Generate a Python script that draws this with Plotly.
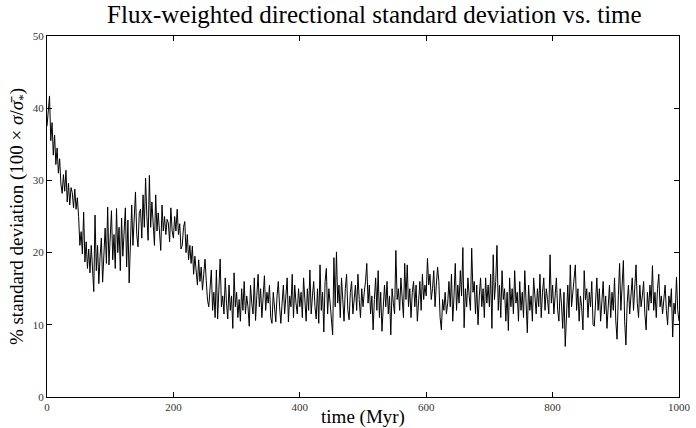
import plotly.graph_objects as go

std_0_48 = [37.5, 40.0, 41.7, 35.5, 38.0, 33.5, 36.3, 32.2, 34.5, 31.0, 33.0, 29.5, 28.2, 30.8, 28.5, 31.4, 27.0, 29.6, 26.6, 29.0, 28.3, 26.2, 28.8, 26.0, 27.6]
std_50_98 = [25.0, 21.0, 22.9, 19.8, 25.6, 18.7, 21.5, 17.8, 20.5, 17.2, 21.0, 16.5, 14.6, 25.2, 17.5, 21.0, 15.7, 19.5, 22.0, 15.9, 20.0, 23.4, 18.5, 26.3, 18.3]
std_100_148 = [22.0, 25.8, 19.0, 22.5, 17.8, 26.1, 20.0, 23.5, 17.5, 24.8, 19.5, 23.0, 26.2, 18.0, 24.5, 15.8, 22.5, 26.6, 21.0, 24.0, 28.4, 22.5, 20.8, 25.5, 26.0]
std_150_198 = [22.0, 28.0, 23.5, 30.3, 25.0, 21.7, 30.7, 23.5, 27.0, 24.0, 21.0, 28.0, 23.0, 25.5, 22.0, 20.3, 26.6, 23.0, 25.0, 22.5, 24.6, 24.1, 21.5, 26.2, 23.0]
std_200_248 = [22.0, 25.0, 23.0, 26.0, 22.5, 24.0, 20.5, 21.0, 23.5, 24.3, 20.0, 22.5, 19.0, 21.0, 18.5, 20.9, 17.0, 19.5, 17.6, 15.5, 19.0, 16.0, 18.0, 14.8, 17.0]
std_250_298 = [19.1, 16.1, 13.4, 12.5, 15.5, 17.6, 12.0, 14.5, 11.0, 17.6, 10.8, 15.0, 19.1, 12.5, 14.0, 11.5, 16.5, 13.0, 10.8, 15.5, 12.0, 14.0, 9.5, 17.2, 12.5]
std_300_348 = [14.5, 11.0, 13.5, 10.5, 15.0, 12.0, 16.0, 11.5, 14.0, 12.5, 9.8, 15.5, 13.0, 11.5, 16.5, 10.6, 14.0, 17.0, 12.5, 15.0, 11.0, 13.5, 16.8, 12.0, 14.5]
std_350_398 = [13.0, 15.5, 11.0, 10.2, 14.5, 12.0, 10.4, 14.0, 16.0, 12.5, 10.2, 13.0, 15.5, 11.5, 13.5, 16.5, 10.4, 14.0, 12.5, 17.0, 11.0, 15.5, 13.0, 11.5, 15.0]
std_400_448 = [12.5, 14.5, 11.0, 16.5, 13.0, 10.5, 15.0, 12.0, 17.6, 11.5, 14.0, 16.0, 12.5, 10.8, 15.0, 10.2, 18.3, 12.0, 14.5, 9.0, 16.0, 17.8, 11.5, 15.0, 13.0]
std_450_498 = [11.0, 8.6, 19.3, 12.5, 20.1, 13.0, 15.5, 11.0, 16.5, 13.0, 10.5, 15.0, 17.0, 12.0, 10.7, 14.5, 16.0, 11.5, 13.5, 15.5, 12.0, 17.0, 13.5, 11.0, 15.0]
std_500_548 = [12.5, 14.5, 16.0, 18.5, 13.0, 15.5, 11.5, 14.0, 9.3, 13.5, 16.5, 12.0, 17.5, 11.0, 14.5, 9.1, 13.0, 15.5, 12.5, 16.0, 11.5, 14.0, 8.6, 15.0, 13.0]
std_550_598 = [11.5, 20.3, 13.5, 15.0, 12.0, 16.5, 14.0, 11.0, 18.5, 13.5, 18.3, 12.5, 15.0, 11.0, 14.5, 16.0, 12.5, 15.5, 10.5, 14.0, 16.0, 12.0, 17.0, 13.5, 15.5]
std_600_648 = [14.0, 19.2, 15.5, 17.0, 13.5, 15.0, 17.5, 12.5, 15.5, 18.0, 16.0, 11.0, 9.3, 13.5, 12.0, 14.5, 11.5, 13.0, 16.0, 12.5, 17.0, 10.5, 14.0, 18.5, 12.0]
std_650_698 = [15.5, 13.0, 17.5, 14.0, 20.7, 9.6, 15.0, 12.5, 16.5, 14.0, 12.0, 20.6, 14.5, 16.0, 11.5, 15.5, 10.0, 14.0, 16.5, 12.5, 15.0, 11.0, 16.5, 13.0, 15.5]
std_700_748 = [12.5, 17.0, 9.5, 19.7, 13.5, 16.0, 21.0, 12.0, 15.5, 11.0, 17.5, 13.5, 15.0, 10.5, 14.5, 9.2, 16.5, 12.5, 15.0, 11.5, 17.5, 13.0, 14.5, 10.5, 16.0]
std_750_798 = [12.0, 14.5, 11.0, 17.5, 13.0, 8.9, 15.5, 12.0, 14.0, 10.5, 16.5, 13.0, 11.5, 15.0, 12.5, 17.0, 11.0, 14.5, 16.5, 12.0, 15.0, 13.5, 11.5, 19.7, 13.0]
std_800_848 = [15.5, 11.5, 14.0, 16.5, 12.0, 10.5, 15.0, 13.0, 9.5, 14.5, 7.0, 12.5, 15.5, 11.0, 18.3, 12.5, 14.5, 16.0, 18.3, 12.0, 15.0, 10.5, 14.0, 12.5, 9.3]
std_850_898 = [17.5, 13.5, 15.0, 11.0, 14.5, 12.5, 16.0, 10.0, 9.8, 14.0, 16.5, 12.0, 15.0, 10.5, 13.5, 16.0, 11.5, 14.0, 9.5, 13.0, 15.5, 11.0, 14.5, 12.0, 16.5]
std_900_948 = [10.5, 8.0, 14.0, 18.5, 12.0, 15.0, 18.9, 10.5, 7.2, 13.0, 15.5, 11.5, 14.0, 16.5, 12.0, 14.5, 18.3, 13.0, 11.0, 15.5, 12.5, 14.0, 16.0, 11.5, 9.3]
std_950_1000 = [14.5, 12.0, 15.5, 13.0, 18.2, 12.0, 14.5, 11.0, 15.0, 17.0, 12.5, 14.0, 11.5, 13.5, 15.5, 12.0, 10.0, 14.0, 12.5, 15.0, 8.3, 13.0, 11.5, 16.6, 12.0, 10.5]

std_pct = (std_0_48 + std_50_98 + std_100_148 + std_150_198 + std_200_248 + std_250_298
           + std_300_348 + std_350_398 + std_400_448 + std_450_498 + std_500_548 + std_550_598
           + std_600_648 + std_650_698 + std_700_748 + std_750_798 + std_800_848 + std_850_898
           + std_900_948 + std_950_1000)
time_myr = list(range(0, 1001, 2))
assert len(time_myr) == len(std_pct)

x_ticks = [0, 200, 400, 600, 800, 1000]
y_ticks = [0, 10, 20, 30, 40, 50]

FONT = "Liberation Serif, DejaVu Serif, serif"

fig = go.Figure()
fig.add_trace(go.Scatter(x=time_myr, y=std_pct, mode="lines",
                         line=dict(color="black", width=1), showlegend=False))

axis_common = dict(showgrid=False, zeroline=False, showline=True, linecolor="black", linewidth=1,
                   mirror="ticks", ticks="inside", ticklen=5, tickcolor="black", tickwidth=1,
                   automargin=False,
                   tickfont=dict(family=FONT, size=11, color="#333"))

fig.update_layout(
    width=696, height=428,
    margin=dict(l=47, r=17, t=36, b=31),
    paper_bgcolor="white", plot_bgcolor="white",
    title=dict(text="Flux-weighted directional standard deviation vs. time",
               x=0.518, xref="paper", xanchor="center", y=0.967, yref="container", yanchor="middle",
               font=dict(family=FONT, size=25, color="black")),
    xaxis=dict(range=[0, 1000], tickvals=x_ticks, ticktext=[str(v) for v in x_ticks],
               title=dict(text="time (Myr)", font=dict(family=FONT, size=19, color="black"), standoff=0),
               **axis_common),
    yaxis=dict(range=[0, 50], tickvals=y_ticks, ticktext=[str(v) for v in y_ticks],
               title=dict(text="% standard deviation (100 × <i>σ</i>/<i>σ̄</i><sub>*</sub>)",
                          font=dict(family=FONT, size=19, color="black"), standoff=4),
               **axis_common),
)

fig.write_html("out.html", config={"displayModeBar": False, "staticPlot": True},
               post_script="document.body.style.margin='0';document.body.style.padding='0';")
